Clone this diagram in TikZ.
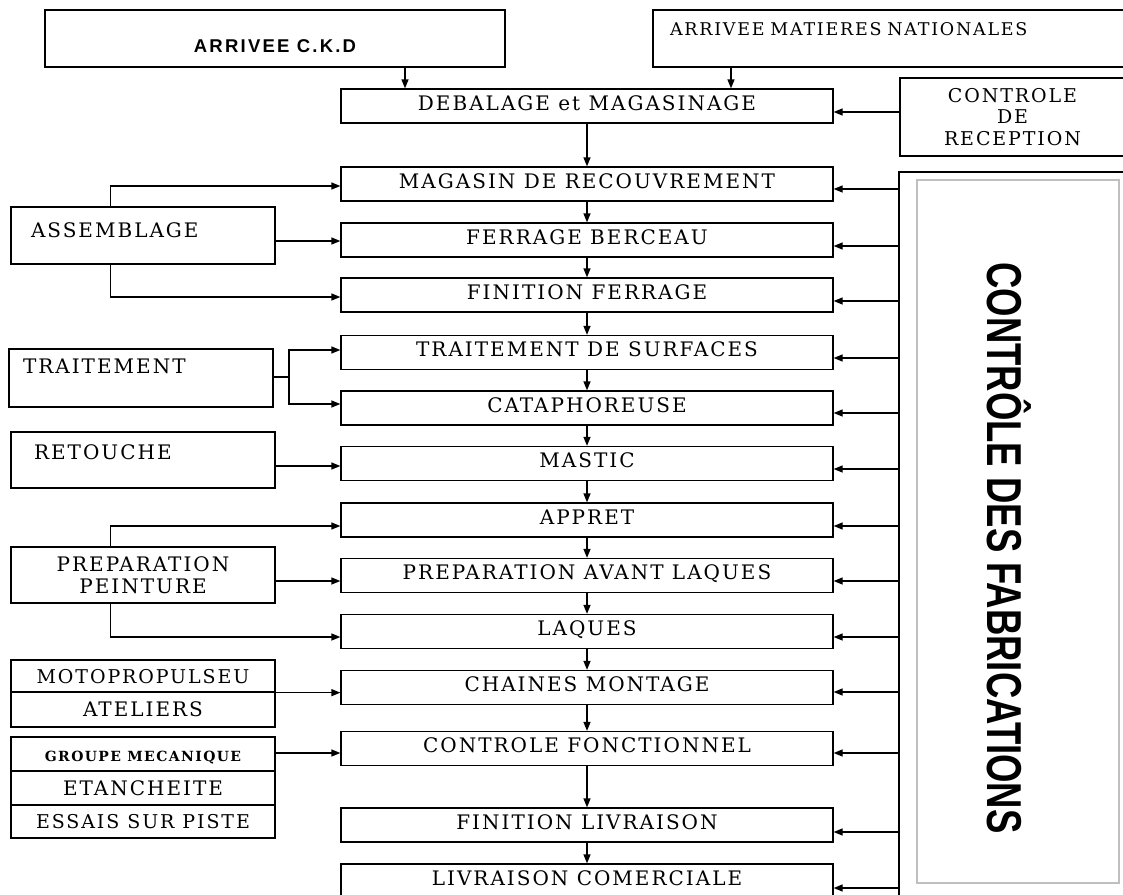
\documentclass[tikz,border=0pt]{standalone}
\usepackage{fontspec}
\setmainfont{DejaVu Serif}[LetterSpace=10]
\newfontfamily\arialfont{Liberation Sans}
\newfontfamily\arialsp{Liberation Sans}[LetterSpace=12]
\usetikzlibrary{arrows.meta}
\begin{document}
\begin{tikzpicture}[x=1pt,y=-1pt,
  box/.style={draw, line width=1.3pt, inner sep=0pt, minimum width=492pt, minimum height=34pt,
    font=\fontsize{20}{24}\selectfont, text height=14pt, text depth=6pt},
  side/.style={draw, line width=1.3pt, inner sep=0pt, minimum width=264pt,
    font=\fontsize{20}{21.5}\selectfont},
  arr/.style={line width=1.3pt, -{Triangle[length=9pt,width=7pt]}},
  ln/.style={line width=1.3pt}]
\useasboundingbox (0,0) rectangle (1123,894);

% top inputs
\node[draw, line width=1.3pt, minimum width=460pt, minimum height=57pt, inner sep=0pt,
  font=\arialsp\bfseries\fontsize{18.5}{20}\selectfont, text height=28pt, text depth=0pt]
  (ckd) at (275,38.5) {ARRIVEE C.K.D};
\node[draw, line width=1.3pt, minimum width=472pt, minimum height=57pt, inner ysep=0pt,
  inner xsep=17pt, text width=438pt, align=left,
  font=\fontsize{17.5}{20}\selectfont, text height=12pt, text depth=19pt]
  (mat) at (889,38.5) {ARRIVEE MATIERES NATIONALES};
\node[draw, line width=1.3pt, minimum width=225pt, minimum height=78pt, inner sep=0pt,
  align=center, font=\fontsize{19}{21.5}\selectfont]
  (crec) at (1012.5,117) {CONTROLE\\DE\\RECEPTION};

% main column
\node[box] (deb)  at (587,106)   {DEBALAGE et MAGASINAGE};
\node[box] (mag)  at (587,184)   {MAGASIN DE RECOUVREMENT};
\node[box] (fer)  at (587,240)   {FERRAGE BERCEAU};
\node[box] (fin)  at (587,295)   {FINITION FERRAGE};
\node[box] (ts)   at (587,352.5) {TRAITEMENT DE SURFACES};
\node[box] (cata) at (587,408)   {CATAPHOREUSE};
\node[box] (mast) at (587,463.5) {MASTIC};
\node[box] (app)  at (587,520)   {APPRET};
\node[box] (pal)  at (587,575.5) {PREPARATION AVANT LAQUES};
\node[box] (laq)  at (587,631.5) {LAQUES};
\node[box] (cm)   at (587,687.5) {CHAINES MONTAGE};
\node[box] (cf)   at (587,748.5) {CONTROLE FONCTIONNEL};
\node[box] (fl)   at (587,825)   {FINITION LIVRAISON};
\node[box] (lc)   at (587,881)   {LIVRAISON COMERCIALE};

% left side boxes
\node[side, minimum height=57pt, inner xsep=20pt, text width=224pt, align=left,
  text height=14pt, text depth=11pt] (asm) at (143,235.5) {ASSEMBLAGE};
\node[side, minimum height=58pt, inner xsep=14pt, text width=236pt, align=left,
  text height=14pt, text depth=24pt] (tr) at (141,378) {TRAITEMENT};
\node[side, minimum height=56pt, inner xsep=23pt, text width=218pt, align=left,
  text height=14pt, text depth=16pt] (ret) at (143,460) {RETOUCHE};
\node[side, minimum height=56pt, align=center] (pp) at (143,575) {PREPARATION\\PEINTURE};
\node[side, minimum height=32pt, text height=14pt, text depth=0pt,
  font=\fontsize{19}{21}\selectfont] (moto) at (143,676) {MOTOPROPULSEU};
\node[side, minimum height=35pt, text height=14pt, text depth=0pt] (atel) at (143,709.5) {ATELIERS};
\node[side, minimum height=34pt, text height=15pt, text depth=0pt,
  font=\bfseries\fontsize{14}{16}\selectfont] (grp) at (143,754) {GROUPE MECANIQUE};
\node[side, minimum height=34pt, text height=14pt, text depth=0pt] (eta) at (143,788) {ETANCHEITE};
\node[side, minimum height=33pt, text height=14pt, text depth=0pt,
  font=\fontsize{19}{21}\selectfont] (ess) at (143,821.5) {ESSAIS SUR PISTE};

% controle des fabrications
\node[draw, line width=1.3pt, minimum width=226pt, minimum height=728pt, inner sep=0pt]
  (cdf) at (1012,536) {};
\node[draw=black!25, line width=2pt, minimum width=202pt, minimum height=703pt, inner sep=0pt]
  (cdfin) at (1018,531.5) {};
\node[rotate=-90, inner sep=0pt, text height=35pt, text depth=0pt,
  font=\arialfont\bfseries\fontsize{49}{49}\selectfont]
  (cdft) at (1005,548) {\scalebox{0.745}[1]{CONTRÔLE DES FABRICATIONS}};

% top arrows
\draw[arr] (ckd.south -| 405,0) -- (deb.north -| 405,0);
\draw[arr] (mat.south -| 731,0) -- (deb.north -| 731,0);
\draw[arr] (crec.west |- 0,112) -- (deb.east |- 0,112);

% main chain
\foreach \a/\b in {deb/mag, mag/fer, fer/fin, fin/ts, ts/cata, cata/mast, mast/app,
  app/pal, pal/laq, laq/cm, cm/cf, cf/fl, fl/lc}
  \draw[arr] (\a.south) -- (\b.north);

% left connectors
\draw[arr] ([xshift=100pt]asm.north west) |- (mag.west |- 0,186);
\draw[arr] (asm.east |- 0,241) -- (fer.west |- 0,241);
\draw[arr] ([xshift=100pt]asm.south west) |- (fin.west |- 0,297);
\coordinate (trj) at (289,377);
\draw[ln] (tr.east |- trj) -- (trj);
\draw[arr] (trj) |- (ts.west |- 0,350);
\draw[arr] (trj) |- (cata.west |- 0,404);
\draw[arr] (ret.east |- 0,466) -- (mast.west |- 0,466);
\draw[arr] ([xshift=100pt]pp.north west) |- (app.west |- 0,526);
\draw[arr] (pp.east |- 0,581) -- (pal.west |- 0,581);
\draw[arr] ([xshift=100pt]pp.south west) |- (laq.west |- 0,637);
\draw[arr] (moto.south east) -- (cm.west |- moto.south east);
\draw[arr] (grp.east |- 0,753) -- (cf.west |- 0,753);

% right connectors
\foreach \n/\y in {mag/189, fer/246, fin/301, ts/358, cata/413, mast/469, app/526,
  pal/581, laq/637, cm/692, cf/753, fl/832, lc/888}
  \draw[arr] (cdf.west |- 0,\y) -- (\n.east |- 0,\y);
\end{tikzpicture}
\end{document}
